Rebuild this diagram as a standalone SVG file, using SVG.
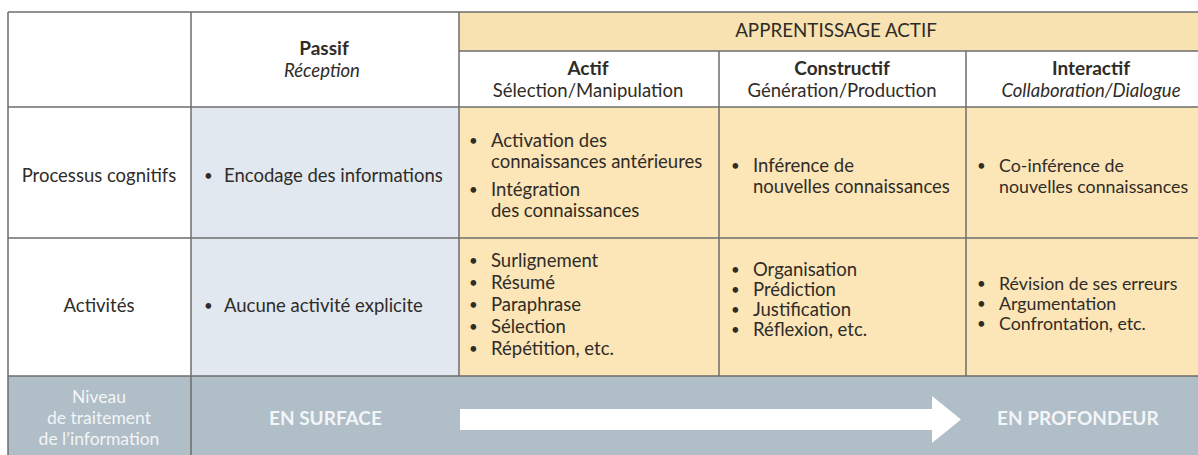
<svg xmlns="http://www.w3.org/2000/svg" width="1198" height="455" viewBox="0 0 1198 455">
<style>
.t{font-family:Lato,"Open Sans","Liberation Sans",sans-serif;fill:#2f2c28;font-size:18.5px}
.b{font-weight:700}
.i{font-style:italic}
.c{text-anchor:middle}
.h{font-size:19px}
.u{font-size:15px}
.s{font-size:17.8px}
.w{fill:#f3f5f7;font-size:17.5px}
.bd{stroke:#6e6e6e;stroke-width:1.5;fill:none}
.yel{fill:#fce5b6}
.blu{fill:#e2e8f0}
.wht{fill:#ffffff}
.grey{fill:#b0bec8}
</style>
<rect x="0" y="0" width="1198" height="455" fill="#ffffff"/>
<g id="corner"><rect class="wht" x="8" y="12" width="183" height="95"/></g>
<g id="passif-header">
<rect class="wht" x="191" y="12" width="268" height="95"/>
<text class="t b c h" x="324" y="55">Passif</text>
<text class="t i c" x="322" y="77">Réception</text>
</g>
<g id="apprentissage-actif">
<rect fill="#f8e2b1" x="459" y="12" width="739" height="39"/>
<text class="t c" x="836" y="37" style="font-size:18.8px">APPRENTISSAGE ACTIF</text>
</g>
<g id="actif-header">
<rect class="wht" x="459" y="51" width="260" height="56"/>
<text class="t b c h" x="588" y="75">Actif</text>
<text class="t c" x="588" y="97">Sélection/Manipulation</text>
</g>
<g id="constructif-header">
<rect class="wht" x="719" y="51" width="247" height="56"/>
<text class="t b c h" x="842" y="75">Constructif</text>
<text class="t c" x="842" y="97">Génération/Production</text>
</g>
<g id="interactif-header">
<rect class="wht" x="966" y="51" width="232" height="56"/>
<text class="t b c h" x="1091" y="75">Interactif</text>
<text class="t i c" x="1091" y="97">Collaboration/Dialogue</text>
</g>
<g id="processus-label">
<rect class="wht" x="8" y="107" width="183" height="131"/>
<text class="t c" x="99" y="182">Processus cognitifs</text>
</g>
<g id="processus-passif">
<rect class="blu" x="191" y="107" width="268" height="131"/>
<text class="t u" x="204" y="181">•</text>
<text class="t" x="224" y="182">Encodage des informations</text>
</g>
<g id="processus-actif">
<rect class="yel" x="459" y="107" width="260" height="131"/>
<text class="t u" x="469" y="146">•</text>
<text class="t" x="491" y="147">Activation des</text>
<text class="t" x="491" y="168">connaissances antérieures</text>
<text class="t u" x="469" y="195">•</text>
<text class="t" x="491" y="196">Intégration</text>
<text class="t" x="491" y="217">des connaissances</text>
</g>
<g id="processus-constructif">
<rect class="yel" x="719" y="107" width="247" height="131"/>
<text class="t u" x="731" y="171">•</text>
<text class="t" x="753" y="172">Inférence de</text>
<text class="t" x="753" y="193">nouvelles connaissances</text>
</g>
<g id="processus-interactif">
<rect class="yel" x="966" y="107" width="232" height="131"/>
<text class="t u" x="977" y="171">•</text>
<text class="t s" x="999" y="172">Co-inférence de</text>
<text class="t s" x="999" y="193">nouvelles connaissances</text>
</g>
<g id="activites-label">
<rect class="wht" x="8" y="238" width="183" height="138"/>
<text class="t c" x="99" y="312">Activités</text>
</g>
<g id="activites-passif">
<rect class="blu" x="191" y="238" width="268" height="138"/>
<text class="t u" x="204" y="311">•</text>
<text class="t" x="224" y="312">Aucune activité explicite</text>
</g>
<g id="activites-actif">
<rect class="yel" x="459" y="238" width="260" height="138"/>
<text class="t u" x="469" y="266">•</text><text class="t" x="491" y="267">Surlignement</text>
<text class="t u" x="469" y="288">•</text><text class="t" x="491" y="289">Résumé</text>
<text class="t u" x="469" y="310">•</text><text class="t" x="491" y="311">Paraphrase</text>
<text class="t u" x="469" y="332">•</text><text class="t" x="491" y="333">Sélection</text>
<text class="t u" x="469" y="354">•</text><text class="t" x="491" y="355">Répétition, etc.</text>
</g>
<g id="activites-constructif">
<rect class="yel" x="719" y="238" width="247" height="138"/>
<text class="t u" x="731" y="275">•</text><text class="t" x="753" y="276">Organisation</text>
<text class="t u" x="731" y="295">•</text><text class="t" x="753" y="296">Prédiction</text>
<text class="t u" x="731" y="315">•</text><text class="t" x="753" y="316">Justification</text>
<text class="t u" x="731" y="335">•</text><text class="t" x="753" y="336">Réflexion, etc.</text>
</g>
<g id="activites-interactif">
<rect class="yel" x="966" y="238" width="232" height="138"/>
<text class="t u" x="977" y="289">•</text><text class="t s" x="999" y="290">Révision de ses erreurs</text>
<text class="t u" x="977" y="309">•</text><text class="t s" x="999" y="310">Argumentation</text>
<text class="t u" x="977" y="329">•</text><text class="t s" x="999" y="330">Confrontation, etc.</text>
</g>
<g id="niveau-label">
<rect class="grey" x="8" y="376" width="183" height="79"/>
<text class="t c w" x="99" y="403">Niveau</text>
<text class="t c w" x="99" y="424">de traitement</text>
<text class="t c w" x="99" y="445">de l’information</text>
</g>
<g id="niveau-band">
<rect class="grey" x="191" y="376" width="1007" height="79"/>
<text class="t w b" x="269" y="425" style="font-size:19px">EN SURFACE</text>
<text class="t w b" x="997" y="425" style="font-size:19px">EN PROFONDEUR</text>
</g>
<g id="connectors">
<polygon fill="#ffffff" points="460,409 932,409 932,396 961,419.5 932,443 932,430 460,430"/>
</g>
<g id="grid">
<path class="bd" d="M8,12 H1198 M8,12 V455 M191,12 V455 M459,12 V376 M459,51 H1198 M719,51 V376 M966,51 V376 M8,107 H1198 M8,238 H1198 M8,376 H1198"/>
</g>
</svg>
